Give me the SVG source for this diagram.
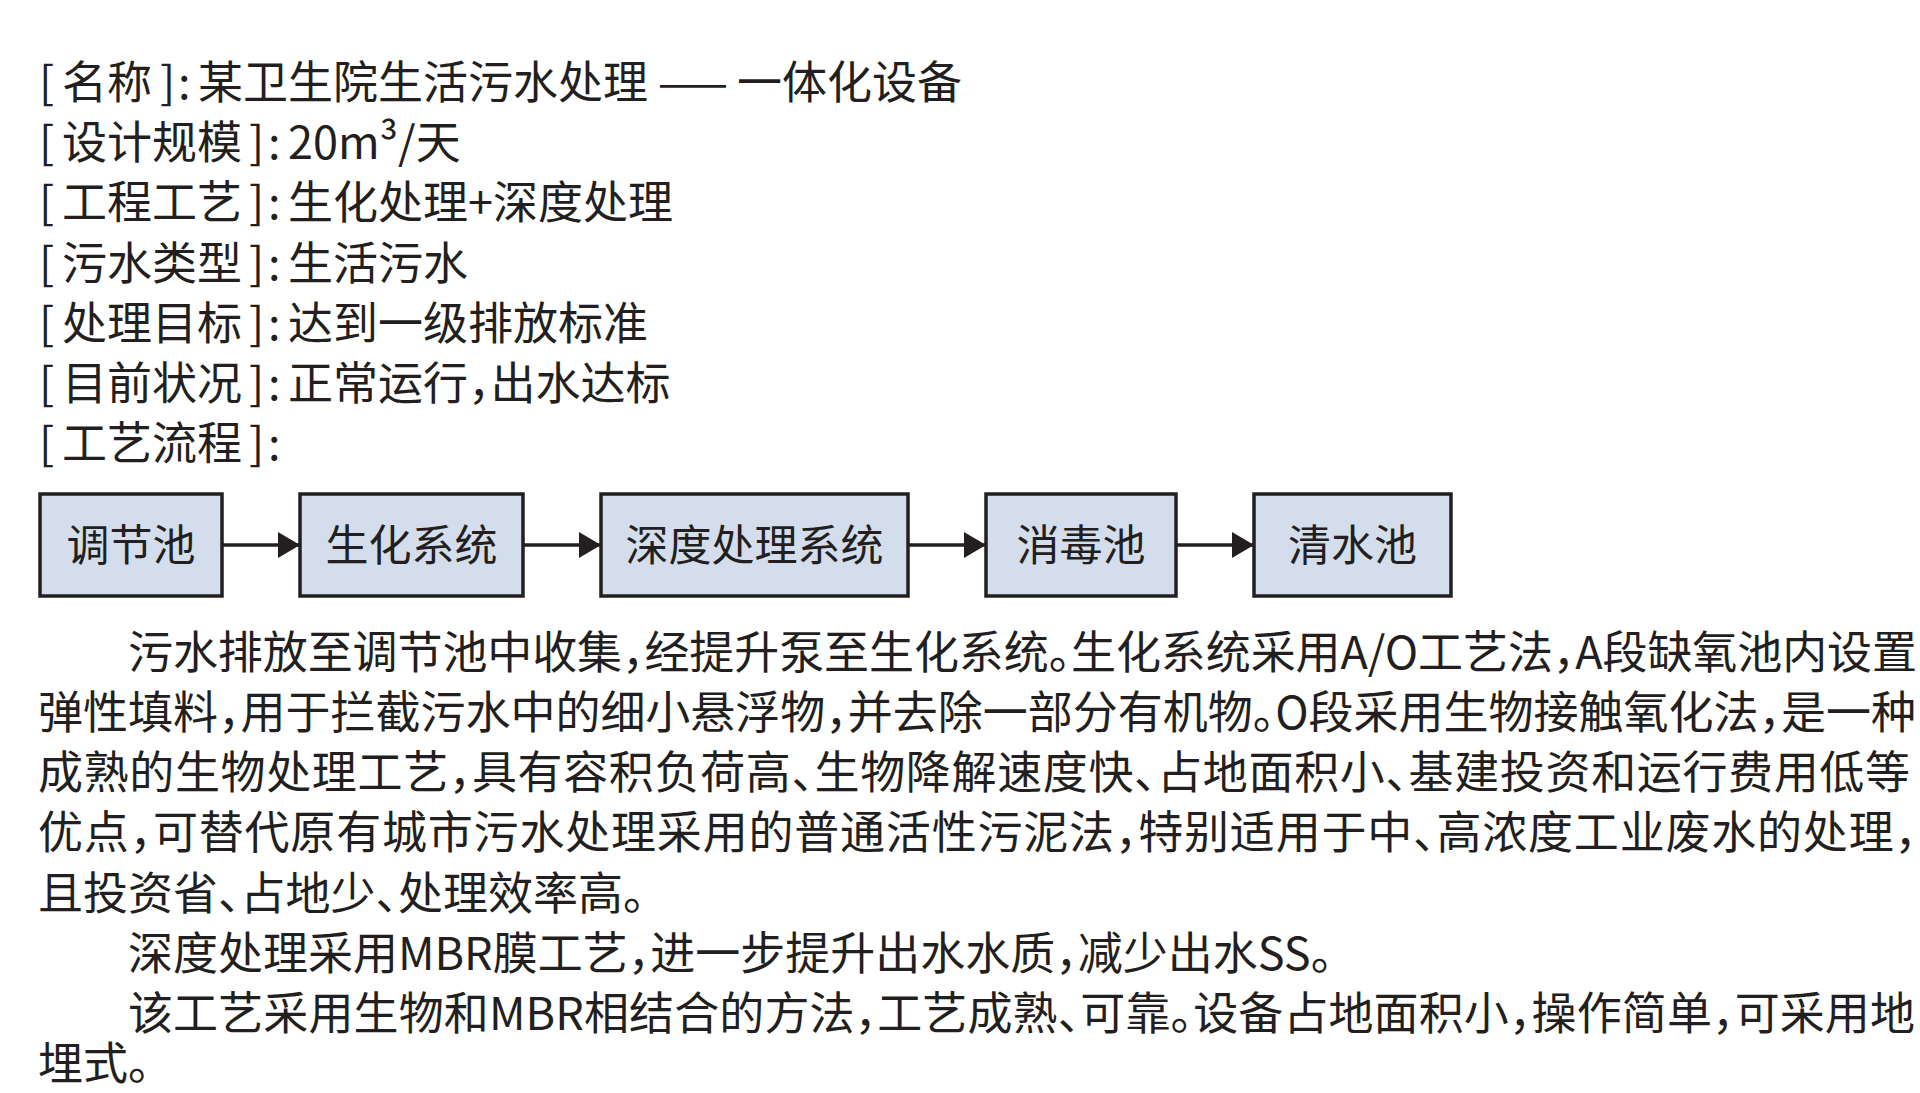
<svg xmlns="http://www.w3.org/2000/svg" width="1920" height="1093" viewBox="0 0 1920 1093">
<style>
  text { font-family: "Noto Sans CJK SC", "Noto Sans", sans-serif; fill: #231f20; font-feature-settings: "halt"; }
  .h { font-size: 45px; }
  .p { font-size: 45px; }
  .box { fill: #d3ddeb; stroke: #231f20; stroke-width: 3.5; }
  .bt { font-size: 43px; text-anchor: middle; }
  .conn { stroke: #231f20; stroke-width: 3.5; fill: none; }
</style>
<defs>
  <marker id="ah" markerUnits="userSpaceOnUse" markerWidth="22" markerHeight="26" refX="22" refY="13" orient="auto">
    <path d="M0,0 L22,13 L0,26 z" fill="#231f20"/>
  </marker>
</defs>
<rect x="0" y="0" width="1920" height="1093" fill="#ffffff"/>

<g id="header">
  <text class="h" y="99"><tspan x="39">[</tspan><tspan x="62">名称</tspan><tspan x="160">]</tspan><tspan x="178">:</tspan><tspan x="198">某卫生院生活污水处理</tspan></text>
  <text class="h" x="658" y="99" textLength="70" lengthAdjust="spacingAndGlyphs">——</text>
  <text class="h" x="737" y="99">一体化设备</text>
  <text class="h" y="159.2"><tspan x="39">[</tspan><tspan x="62">设计规模</tspan><tspan x="249">]</tspan><tspan x="268">:</tspan><tspan x="288">20m³/天</tspan></text>
  <text class="h" y="219.4"><tspan x="39">[</tspan><tspan x="62">工程工艺</tspan><tspan x="249">]</tspan><tspan x="268">:</tspan><tspan x="288">生化处理+深度处理</tspan></text>
  <text class="h" y="279.6"><tspan x="39">[</tspan><tspan x="62">污水类型</tspan><tspan x="249">]</tspan><tspan x="268">:</tspan><tspan x="288">生活污水</tspan></text>
  <text class="h" y="339.8"><tspan x="39">[</tspan><tspan x="62">处理目标</tspan><tspan x="249">]</tspan><tspan x="268">:</tspan><tspan x="288">达到一级排放标准</tspan></text>
  <text class="h" y="400"><tspan x="39">[</tspan><tspan x="62">目前状况</tspan><tspan x="249">]</tspan><tspan x="268">:</tspan><tspan x="288">正常运行，出水达标</tspan></text>
  <text class="h" y="460.2"><tspan x="39">[</tspan><tspan x="62">工艺流程</tspan><tspan x="249">]</tspan><tspan x="268">:</tspan></text>
</g>

<g id="connectors">
  <line class="conn" x1="222" y1="545" x2="300" y2="545" marker-end="url(#ah)"/>
  <line class="conn" x1="523" y1="545" x2="601" y2="545" marker-end="url(#ah)"/>
  <line class="conn" x1="908" y1="545" x2="986" y2="545" marker-end="url(#ah)"/>
  <line class="conn" x1="1176" y1="545" x2="1254" y2="545" marker-end="url(#ah)"/>
</g>

<g id="node-tiaojiechi">
  <rect class="box" x="40" y="494" width="182" height="102"/>
  <text class="bt" x="131" y="561">调节池</text>
</g>
<g id="node-shenghua">
  <rect class="box" x="300" y="494" width="223" height="102"/>
  <text class="bt" x="411.5" y="561">生化系统</text>
</g>
<g id="node-shendu">
  <rect class="box" x="601" y="494" width="307" height="102"/>
  <text class="bt" x="754.5" y="561">深度处理系统</text>
</g>
<g id="node-xiaodu">
  <rect class="box" x="986" y="494" width="190" height="102"/>
  <text class="bt" x="1081" y="561">消毒池</text>
</g>
<g id="node-qingshui">
  <rect class="box" x="1254" y="494" width="197" height="102"/>
  <text class="bt" x="1352.5" y="561">清水池</text>
</g>

<g id="description">
  <text class="p" x="128" y="668.7" textLength="1789" lengthAdjust="spacing">污水排放至调节池中收集，经提升泵至生化系统。生化系统采用A/O工艺法，A段缺氧池内设置</text>
  <text class="p" x="38" y="728.9" textLength="1878" lengthAdjust="spacing">弹性填料，用于拦截污水中的细小悬浮物，并去除一部分有机物。O段采用生物接触氧化法，是一种</text>
  <text class="p" x="38" y="789.1" textLength="1872" lengthAdjust="spacing">成熟的生物处理工艺，具有容积负荷高、生物降解速度快、占地面积小、基建投资和运行费用低等</text>
  <text class="p" x="38" y="849.3" textLength="1879" lengthAdjust="spacing">优点，可替代原有城市污水处理采用的普通活性污泥法，特别适用于中、高浓度工业废水的处理，</text>
  <text class="p" x="38" y="909.5">且投资省、占地少、处理效率高。</text>
  <text class="p" x="128" y="969.7">深度处理采用MBR膜工艺，进一步提升出水水质，减少出水SS。</text>
  <text class="p" x="128" y="1029.9" textLength="1787" lengthAdjust="spacing">该工艺采用生物和MBR相结合的方法，工艺成熟、可靠。设备占地面积小，操作简单，可采用地</text>
  <text class="p" x="38" y="1080">埋式。</text>
</g>
</svg>
